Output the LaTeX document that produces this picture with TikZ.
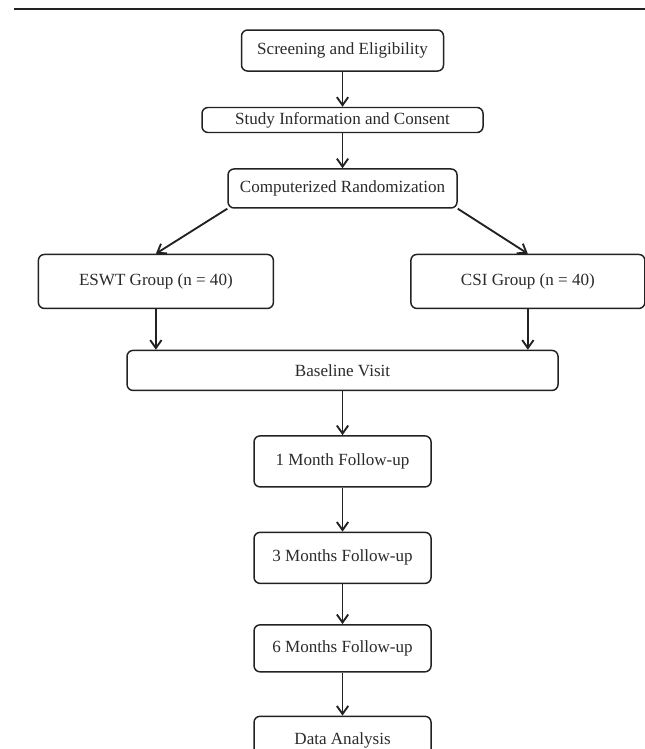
\documentclass[tikz,border=0pt]{standalone}
\usepackage{fontspec}
\setmainfont{Liberation Serif}
\usetikzlibrary{arrows.meta, positioning}
\definecolor{fcLine}{HTML}{222222}
\definecolor{fcText}{HTML}{2A2A2A}

\begin{document}
\begin{tikzpicture}[
  font=\fontsize{12.8}{15}\selectfont, node distance=26.25pt,
  box/.style={draw=fcLine, line width=1.1pt, rounded corners=4.5pt, text=fcText,
              align=center, inner sep=2pt},
  fu/.style={box, minimum width=132.75pt},
  arr/.style={-{Straight Barb[length=6pt, width=8.5pt]}, draw=fcLine, line width=1.4pt},
]
\useasboundingbox (0,0) rectangle (483.75pt,-561.75pt);
\draw[fcLine, line width=1.5pt] (10.5pt,-6.5pt) -- (483.75pt,-6.5pt);

\node[box, minimum width=151.5pt, minimum height=30.75pt] (screen) at (256.9pt,-37.9pt) {Screening and Eligibility};
\node[box, minimum width=210.75pt, minimum height=18.75pt, below=of screen] (info) {Study Information and Consent};
\node[box, minimum width=171.75pt, minimum height=29.25pt, below=of info] (rand) {Computerized Randomization};
\node[box, minimum width=176.25pt, minimum height=40.5pt, below=33.75pt of rand, xshift=-140pt] (eswt) {ESWT Group (n = 40)};
\node[box, minimum width=175.5pt, minimum height=40.5pt, below=33.75pt of rand, xshift=139pt] (csi) {CSI Group (n = 40)};
\node[box, minimum width=323.25pt, minimum height=30pt, below=105.75pt of rand] (base) {Baseline Visit};
\node[fu, minimum height=38.25pt, below=33pt of base] (m1) {1 Month Follow-up};
\node[fu, minimum height=38.25pt, below=33pt of m1] (m3) {3 Months Follow-up};
\node[fu, minimum height=35.25pt, below=30pt of m3] (m6) {6 Months Follow-up};
\node[fu, minimum height=36pt, below=32.25pt of m6] (data) {Data Analysis};

\draw[arr] (screen) -- (info);
\draw[arr] (info) -- (rand);
\draw[arr] (rand.south west) -- (eswt.north);
\draw[arr] (rand.south east) -- (csi.north);
\draw[arr] (eswt.south) -- (eswt.south |- base.north);
\draw[arr] (csi.south) -- (csi.south |- base.north);
\draw[arr] (base) -- (m1);
\draw[arr] (m1) -- (m3);
\draw[arr] (m3) -- (m6);
\draw[arr] (m6) -- (data);
\end{tikzpicture}
\end{document}
